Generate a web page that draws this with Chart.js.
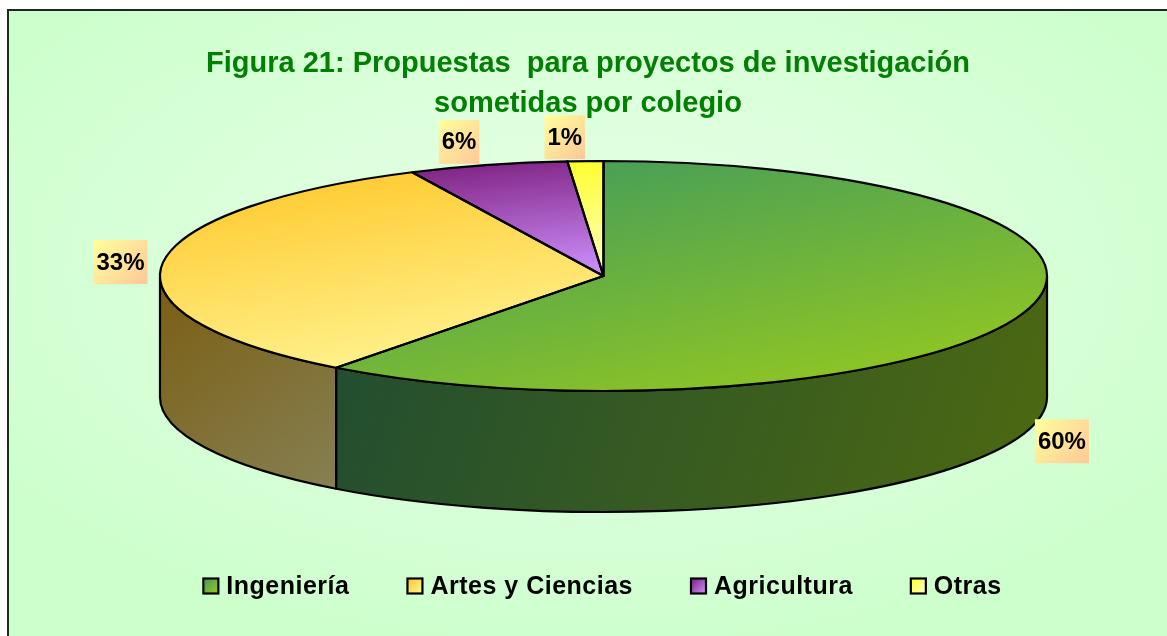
<!DOCTYPE html>
<html><head><meta charset="utf-8">
<script src="https://cdn.jsdelivr.net/npm/chart.js@4.4.1/dist/chart.umd.min.js"></script>
<style>
html,body{margin:0;padding:0;background:#fff;width:1167px;height:636px;overflow:hidden}
#frame{position:absolute;left:7px;top:9px;width:1158px;height:625px;border-left:2px solid #1c2a1c;border-top:2px solid #1c2a1c;
 background:radial-gradient(ellipse 62% 62% at 50% 42%, #e6ffe6 0%, #ddffdd 45%, #ccffcc 100%);}
#wrap{position:absolute;left:0;top:0;width:1167px;height:636px}
</style></head><body>
<div id="frame"></div>
<div id="wrap"><canvas id="c" width="1167" height="636"></canvas></div>
<script>
// ---- data ----
const categories = ['Ingeniería', 'Artes y Ciencias', 'Agricultura', 'Otras'];
const values = [60.3, 32.6, 5.8, 1.3];
const titleLines = ['Figura 21: Propuestas  para proyectos de investigación', 'sometidas por colegio'];
// ---- styles ----
const topColors = [['#3c985f', '#9bcc1c'], ['#ffc626', '#fff89c'], ['#7c1d7e', '#cf93ff'], ['#ffff2e', '#ffffc4']];
const sideColors = [['#214d31', '#4d6911'], ['#7a5e12', '#878257'], ['#5a1a5c', '#8a60a0'], ['#99991e', '#cccc80']];
const FONT = "'Liberation Sans', Arial, sans-serif";

const PIE_SHIFT_X = 15.5;   // pie centre relative to chart-area centre
const B_FRAC = 0.3276;      // vertical semi-axis / chart area height
const A_OVER_B = 3.857;     // horizontal / vertical semi-axis

function geom(chart) {
  const ca = chart.chartArea;
  const h = ca.bottom - ca.top;
  const b = h * B_FRAC;
  return { ex: (ca.left + ca.right) / 2 + PIE_SHIFT_X, ey: ca.top + b, a: b * A_OVER_B, b: b, depth: h - 2 * b };
}
function pt(g, t, dy) { return [g.ex + g.a * Math.cos(t), g.ey + g.b * Math.sin(t) + (dy || 0)]; }

function sectorBBox(cx, cy, R, s, e) {
  const xs = [cx], ys = [cy];
  const add = t => { xs.push(cx + R * Math.cos(t)); ys.push(cy + R * Math.sin(t)); };
  add(s); add(e);
  for (let k = Math.ceil(s / (Math.PI / 2)); k * Math.PI / 2 < e; k++) add(k * Math.PI / 2);
  return [Math.min(...xs), Math.min(...ys), Math.max(...xs), Math.max(...ys)];
}

const pie3d = {
  id: 'pie3d',
  beforeDatasetsDraw(chart) {
    const ctx = chart.ctx, g = geom(chart);
    const arcs = chart.getDatasetMeta(0).data;
    // side walls (front half only)
    arcs.forEach((el, i) => {
      const s = el.startAngle, e = el.endAngle;
      for (let k = -1; k <= 1; k++) {
        const lo = Math.max(s, 2 * Math.PI * k), hi = Math.min(e, 2 * Math.PI * k + Math.PI);
        if (hi <= lo) continue;
        const u = lo - 2 * Math.PI * k, v = hi - 2 * Math.PI * k;
        let minX = Infinity, maxX = -Infinity;
        for (let j = 0; j <= 40; j++) { const x = pt(g, u + (v - u) * j / 40)[0]; minX = Math.min(minX, x); maxX = Math.max(maxX, x); }
        const gr = ctx.createLinearGradient(minX, g.ey, maxX, g.ey + g.b + g.depth);
        gr.addColorStop(0, sideColors[i][0]); gr.addColorStop(1, sideColors[i][1]);
        ctx.save();
        ctx.beginPath();
        ctx.ellipse(g.ex, g.ey, g.a, g.b, 0, u, v, false);
        ctx.lineTo(...pt(g, v, g.depth));
        ctx.ellipse(g.ex, g.ey + g.depth, g.a, g.b, 0, v, u, true);
        ctx.closePath();
        ctx.fillStyle = gr; ctx.fill();
        ctx.lineWidth = 2.2; ctx.strokeStyle = '#000'; ctx.lineJoin = 'round'; ctx.stroke();
        ctx.restore();
      }
    });
    // top faces: library arcs, drawn through an ellipse transform
    arcs.forEach((el, i) => {
      const bb = sectorBBox(el.x, el.y, el.outerRadius, el.startAngle, el.endAngle);
      const gr = ctx.createLinearGradient(bb[0], bb[1], bb[2], bb[3]);
      gr.addColorStop(0, topColors[i][0]); gr.addColorStop(1, topColors[i][1]);
      el.options = Object.assign({}, el.options, { backgroundColor: gr, borderWidth: 0 });
    });
    const el0 = arcs[0];
    ctx.save();
    ctx.translate(g.ex, g.ey);
    ctx.scale(g.a / el0.outerRadius, g.b / el0.outerRadius);
    ctx.translate(-el0.x, -el0.y);
  },
  afterDatasetsDraw(chart) {
    const ctx = chart.ctx, g = geom(chart);
    ctx.restore();
    const arcs = chart.getDatasetMeta(0).data;
    const vals = chart.data.datasets[0].data;
    const total = vals.reduce((p, c) => p + c, 0);
    ctx.save();
    ctx.lineWidth = 2.2; ctx.strokeStyle = '#000'; ctx.lineJoin = 'round';
    arcs.forEach(el => {
      ctx.beginPath();
      ctx.moveTo(g.ex, g.ey);
      ctx.lineTo(...pt(g, el.startAngle));
      ctx.ellipse(g.ex, g.ey, g.a, g.b, 0, el.startAngle, el.endAngle, false);
      ctx.closePath();
      ctx.stroke();
    });
    // data labels
    ctx.font = 'bold 24px ' + FONT;
    ctx.textAlign = 'center'; ctx.textBaseline = 'middle';
    arcs.forEach((el, i) => {
      const t = (el.startAngle + el.endAngle) / 2;
      const c = Math.cos(t), s = Math.sin(t);
      const x = g.ex + (g.a + 40) * c + Math.min(0, s) * 19;
      const y = g.ey + (g.b + 24) * s + (s > 0 ? g.depth : 0);
      const txt = Math.round(vals[i] / total * 100) + '%';
      const w = ctx.measureText(txt).width + 6, h = 44;
      const gr = ctx.createLinearGradient(x - w / 2, y - h / 2, x + w / 2, y + h / 2);
      gr.addColorStop(0, '#ffff9c'); gr.addColorStop(1, '#ffc898');
      ctx.fillStyle = gr; ctx.fillRect(x - w / 2, y - h / 2, w, h);
      ctx.fillStyle = '#000'; ctx.fillText(txt, x, y + 1);
    });
    ctx.restore();
  },
  afterDraw(chart) {
    // legend
    const ctx = chart.ctx, g = geom(chart);
    ctx.save();
    ctx.font = 'bold 25px ' + FONT;
    if ('letterSpacing' in ctx) ctx.letterSpacing = '0.5px';
    const box = 15, gapBT = 8, gapItem = 58;
    const labels = chart.data.labels;
    const widths = labels.map(l => ctx.measureText(l).width);
    const total = widths.reduce((p, w) => p + box + gapBT + w, 0) + gapItem * (labels.length - 1);
    let x = g.ex - 1 - total / 2;
    const yc = 586;
    labels.forEach((l, i) => {
      const gr = ctx.createLinearGradient(x, yc - box / 2, x + box, yc + box / 2);
      gr.addColorStop(0, topColors[i][0]); gr.addColorStop(1, topColors[i][1]);
      ctx.fillStyle = gr; ctx.fillRect(x, yc - box / 2, box, box);
      ctx.lineWidth = 2.2; ctx.strokeStyle = '#000'; ctx.strokeRect(x, yc - box / 2, box, box);
      ctx.fillStyle = '#000'; ctx.textAlign = 'left'; ctx.textBaseline = 'alphabetic';
      ctx.fillText(l, x + box + gapBT, yc + 8);
      x += box + gapBT + widths[i] + gapItem;
    });
    ctx.restore();
  }
};

new Chart(document.getElementById('c'), {
  type: 'pie',
  data: { labels: categories, datasets: [{ data: values, backgroundColor: topColors.map(c => c[0]), borderWidth: 0, clip: false }] },
  options: {
    responsive: false, animation: false, events: [],
    layout: { padding: { left: 20, right: 11, top: 0, bottom: 124 } },
    plugins: {
      legend: { display: false }, tooltip: { enabled: false },
      title: { display: true, text: titleLines, color: '#008000', font: { family: FONT, size: 29, weight: 'bold', lineHeight: '40px' }, padding: { top: 44, bottom: 37 } }
    }
  },
  plugins: [pie3d]
});
</script>
</body></html>
